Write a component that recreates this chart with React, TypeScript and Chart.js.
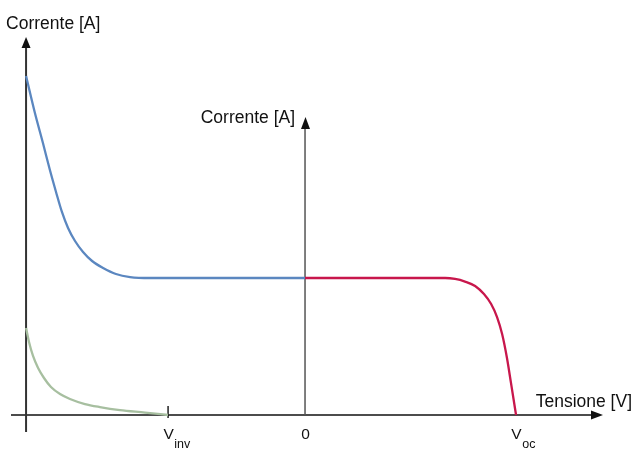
import React, { useEffect, useRef } from "react";
import { Chart, registerables } from "chart.js";

Chart.register(...registerables);

// Schematic units: voltage normalised to Voc = 1, current normalised to plateau = 1
const X_MIN = -1.4455;
const X_MAX = 1.559;
const Y_MIN = -0.2774;
const Y_MAX = 3.0292;

const LEFT_AXIS_X = -1.322;
const V_INV = -0.649;
const V_ZERO = 0;
const V_OC = 1.0;
const MID_AXIS_TOP = 2.175;

const blueX = [-1.322, -1.28, -1.242, -1.209, -1.18, -1.152, -1.123, -1.09, -1.052, -1.009, -0.957, -0.896, -0.829, -0.735, 0];
const blueY = [2.474, 2.204, 1.985, 1.788, 1.628, 1.482, 1.365, 1.27, 1.19, 1.124, 1.073, 1.029, 1.007, 1.0, 1.0];

const redX = [0, 0.664, 0.711, 0.758, 0.806, 0.848, 0.882, 0.91, 0.934, 0.957, 0.976, 1.0];
const redY = [1.0, 1.0, 0.993, 0.974, 0.942, 0.883, 0.81, 0.715, 0.591, 0.416, 0.234, 0];

const greenX = [-1.322, -1.308, -1.289, -1.265, -1.237, -1.204, -1.161, -1.114, -1.043, -0.972, -0.877, -0.758, -0.649];
const greenY = [0.635, 0.533, 0.431, 0.343, 0.27, 0.204, 0.153, 0.117, 0.08, 0.058, 0.036, 0.018, 0];

const tickValues = [V_INV, V_ZERO, V_OC];
const tickMain = ["V", "0", "V"];
const tickSub = ["inv", "", "oc"];

const yAxisLabel = "Corrente [A]";
const xAxisLabel = "Tensione [V]";

const FONT = '"Liberation Sans", Arial, Helvetica, sans-serif';

const toPts = (xs: number[], ys: number[]) => xs.map((x, i) => ({ x, y: ys[i] }));

function arrow(ctx: CanvasRenderingContext2D, tx: number, ty: number, dir: "up" | "right", len: number, half: number) {
  ctx.beginPath();
  if (dir === "up") {
    ctx.moveTo(tx, ty);
    ctx.lineTo(tx - half, ty + len);
    ctx.lineTo(tx + half, ty + len);
  } else {
    ctx.moveTo(tx, ty);
    ctx.lineTo(tx - len, ty - half);
    ctx.lineTo(tx - len, ty + half);
  }
  ctx.closePath();
  ctx.fill();
}

const axesPlugin = {
  id: "schematicAxes",
  beforeDatasetsDraw(chart: any) {
    const ctx = chart.ctx as CanvasRenderingContext2D;
    const xs = chart.scales.x;
    const ys = chart.scales.y;
    const y0 = ys.getPixelForValue(0);
    const xl = xs.getPixelForValue(LEFT_AXIS_X);
    const xm = xs.getPixelForValue(V_ZERO);
    const xinv = xs.getPixelForValue(V_INV);
    const yTop = ys.getPixelForValue(Y_MAX);
    const yMidTop = ys.getPixelForValue(MID_AXIS_TOP);
    ctx.save();
    // horizontal axis
    ctx.strokeStyle = "#111";
    ctx.fillStyle = "#111";
    ctx.lineWidth = 1.6;
    ctx.beginPath();
    ctx.moveTo(11, y0);
    ctx.lineTo(xs.right - 40, y0);
    ctx.stroke();
    arrow(ctx, xs.right - 31, y0, "right", 12, 4.5);
    // left vertical axis
    ctx.strokeStyle = "#333";
    ctx.lineWidth = 2;
    ctx.beginPath();
    ctx.moveTo(xl, y0 + 17);
    ctx.lineTo(xl, yTop + 46);
    ctx.stroke();
    ctx.fillStyle = "#111";
    arrow(ctx, xl, yTop + 37, "up", 11, 4.5);
    // middle vertical axis
    ctx.strokeStyle = "#555";
    ctx.lineWidth = 1.5;
    ctx.beginPath();
    ctx.moveTo(xm, y0);
    ctx.lineTo(xm, yMidTop + 10);
    ctx.stroke();
    arrow(ctx, xm + 0.5, yMidTop, "up", 12, 4.5);
    // Vinv tick
    ctx.strokeStyle = "#111";
    ctx.lineWidth = 1.4;
    ctx.beginPath();
    ctx.moveTo(xinv, y0 - 9);
    ctx.lineTo(xinv, y0 + 3);
    ctx.stroke();
    ctx.restore();
  },
  afterDraw(chart: any) {
    const ctx = chart.ctx as CanvasRenderingContext2D;
    const xs = chart.scales.x;
    const ys = chart.scales.y;
    const y0 = ys.getPixelForValue(0);
    const xl = xs.getPixelForValue(LEFT_AXIS_X);
    const xm = xs.getPixelForValue(V_ZERO);
    const yTop = ys.getPixelForValue(Y_MAX);
    const yMidTop = ys.getPixelForValue(MID_AXIS_TOP);
    ctx.save();
    ctx.fillStyle = "#111";
    ctx.textBaseline = "alphabetic";
    ctx.font = `17.5px ${FONT}`;
    ctx.textAlign = "left";
    ctx.fillText(yAxisLabel, xl - 20, yTop + 29);
    ctx.textAlign = "right";
    ctx.fillText(yAxisLabel, xm - 10, yMidTop + 6);
    ctx.fillText(xAxisLabel, xs.right - 2, y0 - 8);
    // tick labels
    tickValues.forEach((v, i) => {
      const px = xs.getPixelForValue(v);
      ctx.font = `15.5px ${FONT}`;
      ctx.textAlign = "center";
      const main = tickMain[i];
      const sub = tickSub[i];
      ctx.fillText(main, px + 0.5, y0 + 24.5);
      if (sub) {
        const w = ctx.measureText(main).width;
        ctx.font = `12.5px ${FONT}`;
        ctx.textAlign = "left";
        ctx.fillText(sub, px + w / 2 + 1, y0 + 33);
      }
    });
    ctx.restore();
  },
};

export default function App() {
  const ref = useRef<HTMLCanvasElement | null>(null);
  useEffect(() => {
    document.body.style.margin = "0";
    const canvas = ref.current;
    if (!canvas) return;
    const common = {
      showLine: true,
      pointRadius: 0,
      borderWidth: 2.3,
      cubicInterpolationMode: "monotone" as const,
      fill: false,
    };
    const chart = new Chart(canvas, {
      type: "scatter",
      data: {
        datasets: [
          { ...common, label: "blue", data: toPts(blueX, blueY), borderColor: "#5b87c0" },
          { ...common, label: "red", data: toPts(redX, redY), borderColor: "#c8174c" },
          { ...common, label: "green", data: toPts(greenX, greenY), borderColor: "#a7bfa0" },
        ],
      },
      options: {
        animation: false,
        responsive: false,
        maintainAspectRatio: false,
        layout: { padding: 0 },
        plugins: { legend: { display: false }, tooltip: { enabled: false } },
        scales: {
          x: { type: "linear", min: X_MIN, max: X_MAX, display: false },
          y: { type: "linear", min: Y_MIN, max: Y_MAX, display: false },
        },
      },
      plugins: [axesPlugin],
    });
    return () => chart.destroy();
  }, []);
  return (
    <div style={{ position: "fixed", left: 0, top: 0, width: 634, height: 453, background: "#fff" }}>
      <canvas ref={ref} width={634} height={453} style={{ display: "block" }} />
    </div>
  );
}
